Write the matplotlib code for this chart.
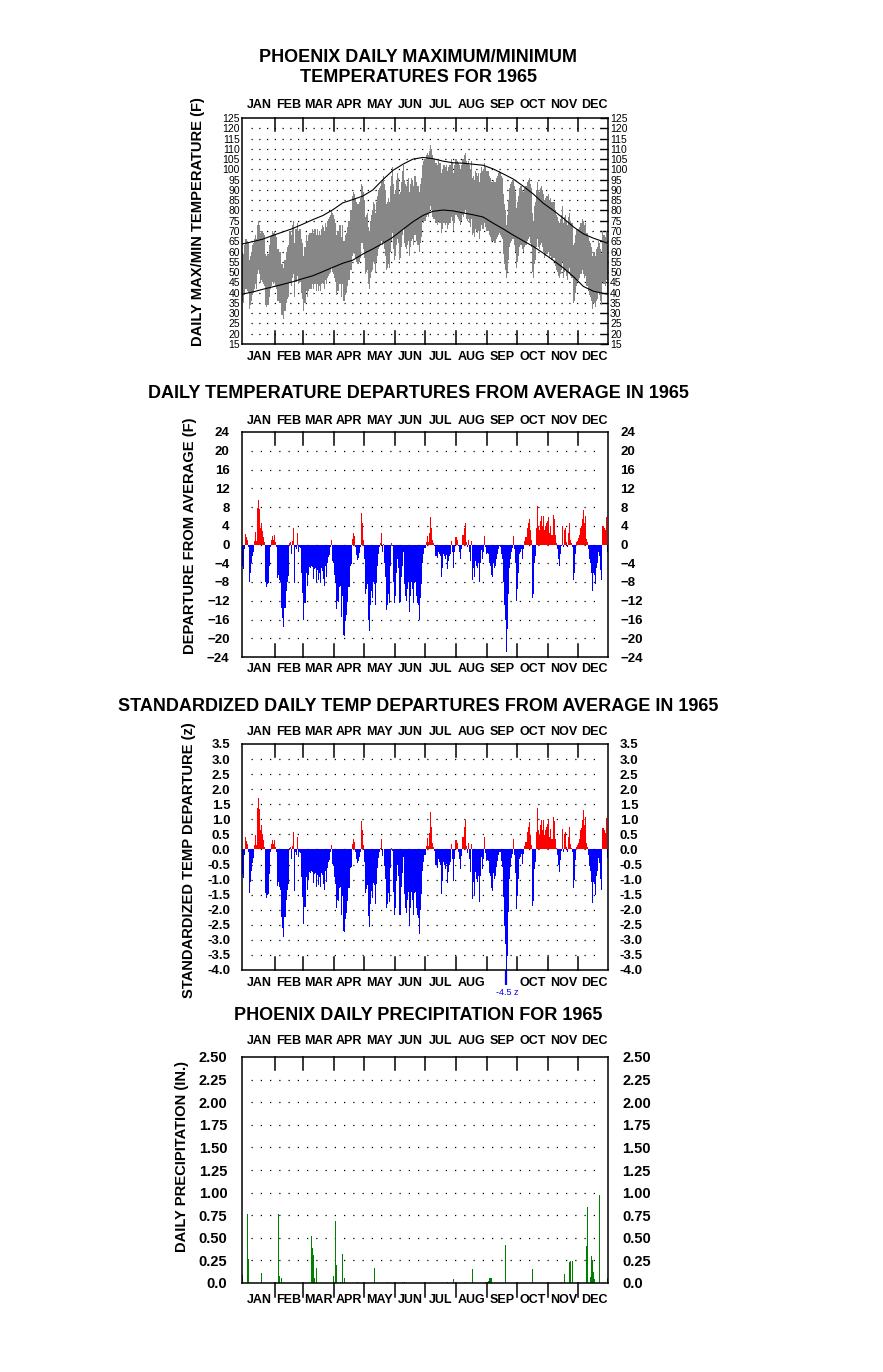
"""
Phoenix 1965 daily temperature / departure / precipitation panels
"""
import numpy as np
import matplotlib
matplotlib.use('Agg')
import matplotlib.pyplot as plt
from matplotlib.transforms import blended_transform_factory

plt.rcParams['font.family'] = ['Liberation Sans', 'DejaVu Sans']

months = ['JAN', 'FEB', 'MAR', 'APR', 'MAY', 'JUN',
          'JUL', 'AUG', 'SEP', 'OCT', 'NOV', 'DEC']
month_len = [31, 28, 31, 30, 31, 30, 31, 31, 30, 31, 30, 31]

# daily max / min temperature (F)
tmax_jan = [60, 59, 63, 66, 66, 65, 64, 56, 58, 60, 63, 64, 66, 68, 66, 73, 75, 73, 69, 70, 70, 69, 68, 59, 58, 59, 59, 63, 67, 68, 70]
tmin_jan = [36, 35, 39, 42, 42, 41, 40, 32, 34, 36, 39, 40, 42, 44, 42, 49, 51, 49, 45, 46, 45, 44, 43, 34, 33, 34, 34, 38, 42, 43, 45]
tmax_feb = [69, 70, 68, 67, 61, 61, 60, 60, 54, 54, 52, 56, 56, 60, 62, 63, 70, 70, 68, 73, 75, 64, 71, 71, 74, 70, 71, 71]
tmin_feb = [44, 45, 43, 42, 36, 36, 35, 35, 29, 29, 27, 31, 31, 35, 37, 38, 45, 45, 43, 47, 49, 38, 45, 45, 48, 44, 45, 45]
tmax_mar = [66, 64, 58, 62, 62, 68, 65, 68, 69, 69, 69, 71, 69, 71, 71, 68, 71, 68, 70, 68, 71, 73, 72, 70, 74, 72, 75, 76, 77, 78, 80]
tmin_mar = [40, 37, 31, 35, 35, 41, 38, 41, 42, 42, 42, 44, 42, 44, 44, 41, 44, 41, 43, 41, 44, 45, 44, 42, 46, 44, 47, 48, 49, 50, 52]
tmax_apr = [79, 78, 76, 74, 68, 70, 70, 73, 73, 67, 73, 65, 65, 68, 69, 72, 75, 75, 80, 80, 87, 89, 88, 86, 84, 83, 83, 84, 86, 93]
tmin_apr = [50, 49, 47, 45, 39, 41, 41, 44, 44, 38, 44, 36, 36, 39, 40, 43, 46, 46, 51, 51, 58, 60, 59, 57, 55, 54, 54, 55, 57, 64]
tmax_may = [92, 89, 85, 77, 78, 79, 72, 70, 75, 78, 80, 84, 83, 79, 84, 87, 90, 91, 92, 94, 95, 97, 93, 90, 83, 84, 86, 84, 92, 97, 101]
tmin_may = [64, 61, 57, 49, 50, 51, 44, 42, 47, 50, 51, 55, 54, 50, 55, 58, 61, 62, 63, 65, 63, 65, 61, 58, 51, 52, 54, 52, 60, 65, 69]
tmax_jun = [93, 88, 90, 95, 98, 96, 88, 89, 94, 99, 102, 95, 93, 92, 94, 96, 89, 93, 96, 95, 92, 97, 97, 94, 92, 92, 89, 93, 96, 102]
tmin_jun = [61, 56, 58, 63, 66, 64, 56, 57, 62, 68, 71, 64, 62, 61, 63, 65, 58, 62, 65, 66, 63, 68, 68, 65, 63, 63, 60, 64, 67, 75]
tmax_jul = [104, 105, 107, 108, 107, 109, 112, 110, 107, 105, 105, 103, 103, 102, 104, 103, 103, 98, 100, 102, 102, 101, 102, 99, 101, 102, 102, 105, 103, 98, 102]
tmin_jul = [74, 75, 77, 78, 77, 79, 82, 80, 77, 76, 76, 74, 74, 73, 75, 74, 74, 69, 71, 74, 74, 73, 74, 71, 73, 74, 74, 77, 75, 70, 74]
tmax_aug = [105, 105, 104, 103, 102, 100, 102, 105, 105, 107, 108, 104, 103, 104, 102, 100, 104, 96, 97, 95, 99, 98, 97, 98, 94, 98, 101, 99, 100, 103, 101]
tmin_aug = [78, 78, 77, 76, 75, 73, 75, 78, 77, 79, 80, 76, 75, 76, 74, 72, 76, 68, 69, 67, 71, 70, 69, 70, 66, 70, 73, 71, 71, 74, 72]
tmax_sep = [99, 99, 99, 97, 96, 94, 94, 95, 94, 94, 96, 97, 98, 99, 98, 97, 96, 88, 83, 80, 73, 78, 85, 91, 93, 94, 95, 95, 92, 89]
tmin_sep = [70, 70, 70, 68, 67, 65, 65, 65, 64, 64, 66, 67, 68, 69, 68, 67, 66, 59, 54, 51, 47, 50, 56, 62, 64, 65, 66, 66, 63, 60]
tmax_oct = [81, 84, 87, 91, 92, 92, 90, 89, 91, 92, 92, 94, 95, 96, 93, 91, 79, 75, 82, 84, 90, 94, 90, 89, 91, 92, 90, 88, 85, 86, 87]
tmin_oct = [52, 55, 58, 62, 63, 63, 61, 60, 62, 63, 63, 65, 66, 67, 64, 62, 50, 47, 54, 56, 62, 66, 62, 61, 63, 64, 62, 60, 57, 58, 59]
tmax_nov = [87, 88, 85, 86, 84, 84, 84, 84, 80, 78, 77, 75, 74, 76, 78, 82, 74, 77, 78, 75, 73, 77, 79, 75, 74, 74, 63, 64, 68, 71]
tmin_nov = [59, 60, 57, 58, 56, 56, 57, 57, 53, 51, 50, 48, 47, 49, 51, 55, 47, 50, 51, 48, 46, 50, 52, 48, 47, 47, 35, 36, 40, 43]
tmax_dec = [71, 71, 72, 74, 74, 76, 75, 73, 74, 69, 69, 67, 65, 64, 62, 58, 60, 60, 58, 61, 62, 65, 64, 61, 59, 70, 68, 68, 67, 70, 63]
tmin_dec = [46, 46, 47, 49, 49, 51, 49, 47, 48, 43, 43, 41, 39, 38, 36, 32, 35, 35, 33, 36, 37, 40, 39, 36, 34, 45, 44, 44, 43, 46, 39]

# normal max / min curves (F)
norm_day = list(range(0, 361, 10)) + [364]
norm_max = [63.7, 64.8, 66, 67.8, 69.5, 71.2, 73.3, 75.5, 77.5, 80.3, 83.7, 85.3, 87, 90, 95, 99.5, 102.5, 105, 105.8, 105.2,
            104, 103.2, 103, 102.5, 102, 100.2, 97.8, 95.3, 91.8, 88, 83.5, 80, 76.2, 72, 68.6, 66.5, 64.8, 64]
norm_min = [39.3, 40.3, 41.6, 42.8, 44, 45.3, 46.8, 48.2, 50.2, 52.3, 54.3, 55.8, 58.8, 61.3, 64, 67, 70.8, 74.5, 77.6, 79.6,
            80.2, 79.8, 78.8, 77.9, 76.8, 73.8, 71, 68, 65.2, 62.5, 59.2, 55.7, 52, 47.8, 43, 40.7, 39.6, 39.3]

# daily departure from average (F)
dep_jan = [-4.5, -5.3, -1.0, 2.3, 1.5, 1.0, -0.5, -8.0, -6.0, -4.0, -2.5, -1.5, 0.8, 2.7, 0.8, 7.8, 9.6, 7.5, 3.6, 4.5, 2.8, 1.7, 0.5, -8.0, -9.0, -8.5, -8.3, -4.5, -0.5, 1.0, 1.8]
dep_feb = [1.0, 2.0, 0.5, -0.5, -7.2, -6.5, -7.5, -8.0, -13.5, -15.7, -17.5, -13.5, -13.5, -10.0, -8.0, -6.8, 0.3, 0.5, -2.0, 0.8, 3.5, -8.3, -0.5, -1.0, 2.5, -1.5, -0.5, -0.8]
dep_mar = [-6, -10.3, -16, -12.5, -12.5, -6, -8.8, -6.5, -4.8, -5, -4.6, -4.8, -7.3, -5.2, -5, -8, -5.5, -7.6, -6, -8.2, -5, -5.6, -7.4, -8.8, -4.6, -7, -4, -2.6, -2.2, -0.6, 1.0]
dep_apr = [-3.5, -4, -6.5, -8, -13.8, -12, -12.2, -9, -8.8, -15.4, -11, -19.2, -19.5, -16.3, -15, -12.2, -9, -9, -4.5, -4.2, 1.2, 2.5, 1.8, -0.5, -2.2, -3.2, -2.8, -1.8, -0.5, 6.8]
dep_may = [4.5, 1.0, -3, -10.5, -9.5, -8.5, -16, -18.4, -13, -10, -11.5, -8, -8.5, -13, -8.3, -4.5, -2, -0.5, 0.3, 2.5, -1.5, 0.2, -4, -7, -14, -13, -10.5, -12.5, -4.5, 0.3, -0.4]
dep_jun = [-8, -12.5, -11, -6, -3, -5, -12.5, -12.3, -7, -4.5, -1.5, -8.5, -11, -12, -9.5, -8, -14.5, -11, -8, -9.5, -12.5, -8.3, -8, -11, -12.5, -13, -16, -11.5, -8.5, -4]
dep_jul = [-2, -0.8, 0.5, 1.8, 0.6, 2.5, 5.8, 3.5, 1.0, 0.4, -0.3, -2.5, -2.5, -2.8, -1.5, -2, -2.5, -7, -5, -2, -2.5, -3, -2.2, -5.2, -3.5, -2.5, -2, 0.8, -1.5, -5, -1.5]
dep_aug = [1.5, 1.5, 1.0, -0.3, -1.5, -3, -1, 2, 2, 3.5, 4.5, 0.5, -0.5, 1.0, -1.5, -3.5, 0.8, -7.5, -5, -7, -3.5, -4.5, -5, -4, -8, -4, -1.2, -3, -1.5, 1.9, -0.5]
dep_sep = [-2, -1.8, -2, -4, -4.5, -6.5, -7, -4, -5, -4.5, -3, -2, -1, -0.4, -0.5, -2, -3, -8, -13, -16, -23, -18, -10.5, -5, -3, -1.5, -0.8, 1.8, -1, -4]
dep_oct = [-12, -9.5, -6, -2, -1.5, -1, -3, -1, 0.8, 1.5, 1.5, 3.5, 4.5, 5.5, 3, 1, -11.5, -10.5, -4, -2.5, 3.5, 8.3, 4, 3, 5, 6, 4, 6, 3, 4, 4.5]
dep_nov = [5, 5.8, 2.5, 4, 2, 2, 6.3, 5.5, 2, 0.3, -1, -3, -4.5, -2, -0.3, 4, -0.5, 3, 3.5, 0.5, -0.6, 2.5, 4.5, 1, 0.3, -0.5, -7.5, -6, -2, 0.5]
dep_dec = [0.8, 1.3, 2, 3.5, 4, 5.5, 7.3, 4.5, 6, 1.2, 0.5, -1, -3, -4, -6, -10, -6, -6.5, -8.5, -5, -4, -1.5, -2.5, -5.5, -7.5, 4, 4, 3.5, 3, 5.8, -1.5]

# standardized departure (z)
z_jan = [-0.80, -0.95, -0.18, 0.41, 0.27, 0.18, -0.09, -1.43, -1.07, -0.71, -0.45, -0.27, 0.14, 0.48, 0.14, 1.39, 1.71, 1.34, 0.64, 0.80, 0.50, 0.30, 0.09, -1.43, -1.61, -1.52, -1.48, -0.80, -0.09, 0.18, 0.32]
z_feb = [0.17, 0.33, 0.08, -0.08, -1.20, -1.08, -1.25, -1.33, -2.25, -2.62, -2.92, -2.25, -2.25, -1.67, -1.33, -1.13, 0.05, 0.08, -0.33, 0.13, 0.58, -1.38, -0.08, -0.17, 0.42, -0.25, -0.08, -0.13]
z_mar = [-0.92, -1.58, -2.46, -1.92, -1.92, -0.92, -1.35, -1.00, -0.74, -0.77, -0.71, -0.74, -1.12, -0.80, -0.77, -1.23, -0.85, -1.17, -0.92, -1.26, -0.77, -0.86, -1.14, -1.35, -0.71, -1.08, -0.62, -0.40, -0.34, -0.09, 0.15]
z_apr = [-0.49, -0.56, -0.92, -1.13, -1.94, -1.69, -1.72, -1.27, -1.24, -2.17, -1.55, -2.70, -2.75, -2.30, -2.11, -1.72, -1.27, -1.27, -0.63, -0.59, 0.17, 0.35, 0.25, -0.07, -0.31, -0.45, -0.39, -0.25, -0.07, 0.96]
z_may = [0.63, 0.14, -0.42, -1.46, -1.32, -1.18, -2.22, -2.56, -1.81, -1.39, -1.60, -1.11, -1.18, -1.81, -1.15, -0.63, -0.28, -0.07, 0.04, 0.35, -0.21, 0.03, -0.56, -0.97, -1.94, -1.81, -1.46, -1.74, -0.63, 0.04, -0.06]
z_jun = [-1.40, -2.19, -1.93, -1.05, -0.53, -0.88, -2.19, -2.16, -1.23, -0.79, -0.26, -1.49, -1.93, -2.11, -1.67, -1.40, -2.54, -1.93, -1.40, -1.67, -2.19, -1.46, -1.40, -1.93, -2.19, -2.28, -2.81, -2.02, -1.49, -0.70]
z_jul = [-0.43, -0.17, 0.11, 0.38, 0.13, 0.53, 1.23, 0.74, 0.21, 0.09, -0.06, -0.53, -0.53, -0.60, -0.32, -0.43, -0.53, -1.49, -1.06, -0.43, -0.53, -0.64, -0.47, -1.11, -0.74, -0.53, -0.43, 0.17, -0.32, -1.06, -0.32]
z_aug = [0.33, 0.33, 0.22, -0.07, -0.33, -0.65, -0.22, 0.43, 0.43, 0.76, 0.98, 0.11, -0.11, 0.22, -0.33, -0.76, 0.17, -1.63, -1.09, -1.52, -0.76, -0.98, -1.09, -0.87, -1.74, -0.87, -0.26, -0.65, -0.33, 0.41, -0.11]
z_sep = [-0.39, -0.35, -0.39, -0.78, -0.88, -1.27, -1.37, -0.78, -0.98, -0.88, -0.59, -0.39, -0.20, -0.08, -0.10, -0.39, -0.59, -1.57, -2.55, -3.14, -4.51, -3.53, -2.06, -0.98, -0.59, -0.29, -0.16, 0.35, -0.20, -0.78]
z_oct = [-1.97, -1.56, -0.98, -0.33, -0.25, -0.16, -0.49, -0.16, 0.13, 0.25, 0.25, 0.57, 0.74, 0.90, 0.49, 0.16, -1.89, -1.72, -0.66, -0.41, 0.57, 1.36, 0.66, 0.49, 0.82, 0.98, 0.66, 0.98, 0.49, 0.66, 0.74]
z_nov = [0.85, 0.98, 0.42, 0.68, 0.34, 0.34, 1.07, 0.93, 0.34, 0.05, -0.17, -0.51, -0.76, -0.34, -0.05, 0.68, -0.08, 0.51, 0.59, 0.08, -0.10, 0.42, 0.76, 0.17, 0.05, -0.08, -1.27, -1.02, -0.34, 0.08]
z_dec = [0.14, 0.23, 0.36, 0.63, 0.71, 0.98, 1.30, 0.80, 1.07, 0.21, 0.09, -0.18, -0.54, -0.71, -1.07, -1.79, -1.07, -1.16, -1.52, -0.89, -0.71, -0.27, -0.45, -0.98, -1.34, 0.71, 0.71, 0.63, 0.54, 1.04, -0.27]

# daily precipitation (in.), day of year (0 = Jan 1)
prcp_day = [0, 5, 6, 19, 36, 37, 39, 69, 70, 71, 72, 74, 91, 93, 94, 98, 100, 102, 115, 132,
            145, 160, 162, 172, 174, 191, 197, 198, 199, 204, 210, 222, 229, 242, 245, 246, 247, 248, 262, 289,
            318, 321, 326, 327, 329, 334, 343, 344, 347, 348, 349, 350, 351, 356, 364]
prcp_amt = [0.09, 0.76, 0.26, 0.11, 0.76, 0.08, 0.06, 0.52, 0.39, 0.31, 0.05, 0.17, 0.08, 0.69, 0.20, 0.01, 0.32, 0.05, 0.01, 0.17,
            0.01, 0.01, 0.01, 0.07, 0.85, 0.01, 0.06, 0.03, 0.03, 0.01, 0.04, 0.01, 0.16, 0.01, 0.02, 0.05, 0.06, 0.06, 0.42, 0.16,
            0.01, 0.10, 0.23, 0.24, 0.24, 0.01, 0.41, 0.84, 0.07, 0.30, 0.25, 0.12, 0.04, 0.97, 0.05]

tmax = np.array(tmax_jan + tmax_feb + tmax_mar + tmax_apr + tmax_may + tmax_jun +
                tmax_jul + tmax_aug + tmax_sep + tmax_oct + tmax_nov + tmax_dec)
tmin = np.array(tmin_jan + tmin_feb + tmin_mar + tmin_apr + tmin_may + tmin_jun +
                tmin_jul + tmin_aug + tmin_sep + tmin_oct + tmin_nov + tmin_dec)
dep = np.array(dep_jan + dep_feb + dep_mar + dep_apr + dep_may + dep_jun +
               dep_jul + dep_aug + dep_sep + dep_oct + dep_nov + dep_dec)
zdep = np.array(z_jan + z_feb + z_mar + z_apr + z_may + z_jun +
                z_jul + z_aug + z_sep + z_oct + z_nov + z_dec)
days = np.arange(len(dep))

# figure in pixels
W, H = 883, 1372
fig = plt.figure(figsize=(W / 100, H / 100), dpi=100)


def fx(px):
    return px / W


def fy(py):
    return 1 - py / H


LEFT, RIGHT = 242, 608
starts = np.cumsum([0] + month_len[:-1])
tick_x = starts[1:] + 1.5
label_x = starts + np.array(month_len) / 2 + 1.5


def panel(top, bottom):
    ax = fig.add_axes([fx(LEFT), fy(bottom), (RIGHT - LEFT) / W, (bottom - top) / H])
    ax.set_xlim(0, 365)
    ax.set_xticks([])
    for s in ax.spines.values():
        s.set_linewidth(1.1)
    return ax


def month_marks(ax, top, bottom, lab_top, lab_bot, out_bottom=False, skip_bottom=()):
    tlen = 13 / (bottom - top)
    tr = ax.get_xaxis_transform()
    for t in tick_x:
        ax.plot([t, t], [1, 1 - tlen], transform=tr, color='k', lw=1.1, clip_on=False)
        if out_bottom:
            ax.plot([t, t], [0, -tlen * 1.05], transform=tr, color='k', lw=1.1, clip_on=False)
        else:
            ax.plot([t, t], [0, tlen], transform=tr, color='k', lw=1.1, clip_on=False)
    tt = blended_transform_factory(ax.transData, fig.transFigure)
    for m, x in zip(months, label_x):
        ax.text(x, fy(lab_top), m, transform=tt, ha='center', va='center',
                fontsize=9, fontweight='bold')
        if m not in skip_bottom:
            ax.text(x, fy(lab_bot), m, transform=tt, ha='center', va='center',
                    fontsize=9, fontweight='bold')


def dots(ax, levels, gap):
    for lv in levels:
        ax.plot([9, 358], [lv, lv], color='k', lw=0.9, linestyle=(0, (1, gap)), zorder=0.5)


def title(lines, ys):
    for txt, y in zip(lines, ys):
        fig.text(fx(418), fy(y), txt, ha='center', va='center', fontsize=13, fontweight='bold')


def ylabel(txt, x, y):
    fig.text(fx(x), fy(y), txt, rotation=90, ha='center', va='center', fontsize=10.6, fontweight='bold')


# ---- Panel 1: daily max/min temperatures
title(['PHOENIX DAILY MAXIMUM/MINIMUM', 'TEMPERATURES FOR 1965'], [57, 77])
ax1 = panel(118, 344)
ax1.set_ylim(15, 125)
dots(ax1, np.arange(20, 121, 5), 5.2)
ax1.bar(days + 0.5, tmax - tmin, bottom=tmin, width=1.0, color='#878787', linewidth=0, zorder=2)
ax1.plot(np.array(norm_day) + 0.5, norm_max, color='k', lw=0.8, zorder=3)
ax1.plot(np.array(norm_day) + 0.5, norm_min, color='k', lw=0.8, zorder=3)
ax1.set_yticks(np.arange(15, 126, 5))
ax1.tick_params(axis='y', left=False, right=True, labelleft=True, labelright=True,
                direction='in', length=6, width=1.0, pad=1.5, labelsize=7.5)
month_marks(ax1, 118, 344, 105, 357)
ylabel('DAILY MAX/MIN TEMPERATURE (F)', 198, 222)

# ---- Panel 2: departures
title(['DAILY TEMPERATURE DEPARTURES FROM AVERAGE IN 1965'], [393])
ax2 = panel(432, 657)
ax2.set_ylim(-24, 24)
dots(ax2, np.arange(-20, 21, 4), 6.4)
ax2.bar(days + 0.5, dep, width=1.0, color=np.where(dep >= 0, '#ff0000', '#0000ff'),
        linewidth=0, zorder=2)
ax2.set_yticks(np.arange(-24, 25, 4))
ax2.tick_params(axis='y', left=False, right=False, labelleft=True, labelright=True,
                length=0, pad=9, labelsize=9.5)
for lab in ax2.get_yticklabels():
    lab.set_fontweight('bold')
month_marks(ax2, 432, 657, 421, 669)
ylabel('DEPARTURE FROM AVERAGE (F)', 190, 536)

# ---- Panel 3: standardized departures
title(['STANDARDIZED DAILY TEMP DEPARTURES FROM AVERAGE IN 1965'], [706])
ax3 = panel(744, 970)
ax3.set_ylim(-4.0, 3.5)
dots(ax3, np.arange(-3.5, 3.01, 0.5), 6.4)
ax3.bar(days + 0.5, zdep, width=1.0, color=np.where(zdep >= 0, '#ff0000', '#0000ff'),
        linewidth=0, zorder=2)
ax3.set_yticks(np.arange(-4.0, 3.51, 0.5))
ax3.set_yticklabels(['%.1f' % v for v in np.arange(-4.0, 3.51, 0.5)])
ax3.tick_params(axis='y', left=False, right=False, labelleft=True, labelright=True,
                length=0, pad=8.5, labelsize=9.5)
for lab in ax3.get_yticklabels():
    lab.set_fontweight('bold')
# values beyond the axis floor get a line and a label below it
low = zdep < -4.0
ax3.vlines(days[low] + 0.5, -4.0, zdep[low], color='#0000ff', lw=1.6, clip_on=False)
for d, v in zip(days[low], zdep[low]):
    ax3.text(d + 1.5, -4.76, '%.1f z' % v, color='#0000ff', fontsize=6.5,
             ha='center', va='center', clip_on=False)
month_marks(ax3, 744, 970, 732, 983, skip_bottom=('SEP',))
ylabel('STANDARDIZED TEMP DEPARTURE (z)', 189, 860)

# ---- Panel 4: precipitation
title(['PHOENIX DAILY PRECIPITATION FOR 1965'], [1016])
ax4 = panel(1057, 1283)
ax4.set_ylim(0, 2.5)
dots(ax4, np.arange(0.25, 2.26, 0.25), 6.4)
ax4.bar(np.array(prcp_day) + 0.5, prcp_amt, width=0.9, color='#008000', linewidth=0, zorder=2)
ax4.set_yticks(np.arange(0, 2.51, 0.25))
ax4.set_yticklabels(['%.2f' % v if v > 0 else '0.0' for v in np.arange(0, 2.51, 0.25)])
ax4.tick_params(axis='y', left=False, right=False, labelleft=True, labelright=True,
                length=0, pad=10.5, labelsize=10.5)
for lab in ax4.get_yticklabels():
    lab.set_fontweight('bold')
month_marks(ax4, 1057, 1283, 1041, 1300, out_bottom=True)
ylabel('DAILY PRECIPITATION (IN.)', 182, 1156)

fig.savefig('out.png', dpi=100, facecolor='white')
